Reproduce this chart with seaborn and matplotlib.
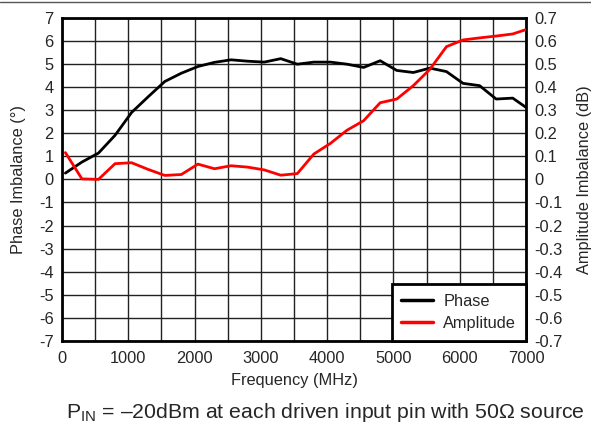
import matplotlib
matplotlib.use('Agg')
import matplotlib.pyplot as plt
from matplotlib.lines import Line2D
from matplotlib.ticker import FuncFormatter
import numpy as np
import pandas as pd
import seaborn as sns

freq = [50, 300, 550, 800, 1050, 1300, 1550, 1800, 2050, 2300, 2550, 2800, 3050, 3300, 3550,
        3800, 4050, 4300, 4550, 4800, 5050, 5300, 5550, 5800, 6050, 6300, 6550, 6800, 7000]
phase = [0.27, 0.75, 1.14, 1.91, 2.90, 3.58, 4.24, 4.60, 4.89, 5.07, 5.18, 5.12, 5.08, 5.23, 4.99,
         5.08, 5.08, 4.99, 4.85, 5.14, 4.72, 4.63, 4.82, 4.67, 4.16, 4.06, 3.48, 3.52, 3.12]
amplitude = [0.116, 0.002, 0.0, 0.068, 0.072, 0.043, 0.017, 0.021, 0.066, 0.046, 0.059, 0.053, 0.041,
             0.018, 0.025, 0.110, 0.156, 0.213, 0.254, 0.332, 0.348, 0.406, 0.477, 0.575, 0.604,
             0.613, 0.621, 0.630, 0.649]

df = pd.DataFrame({'freq': freq, 'phase': phase, 'amplitude': amplitude})

sns.set_style('white')
plt.rcParams['font.family'] = ['Liberation Sans', 'DejaVu Sans']
plt.rcParams['mathtext.fontset'] = 'custom'
plt.rcParams['mathtext.rm'] = 'Liberation Sans'

fig = plt.figure(figsize=(5.91, 4.24), dpi=100)
ax = fig.add_axes([0.105, 0.196, 0.785, 0.762])
ax2 = ax.twinx()

sns.lineplot(data=df, x='freq', y='phase', ax=ax, color='black', lw=2, zorder=5)
sns.lineplot(data=df, x='freq', y='amplitude', ax=ax2, color='#ff0000', lw=2, zorder=5)

ax.set_xlim(0, 7000)
ax.set_ylim(-7, 7)
ax2.set_ylim(-0.7, 0.7)
ax.set_xticks(np.arange(0, 7001, 1000))
ax.set_xticks(np.arange(0, 7001, 500), minor=True)
ax.set_yticks(np.arange(-7, 8, 1))
ax2.set_yticks(np.round(np.arange(-0.7, 0.71, 0.1), 1))

fmt = lambda v, p: ('%g' % (round(v, 1) + 0.0)).replace('\u2212', '-')
ax.yaxis.set_major_formatter(FuncFormatter(fmt))
ax2.yaxis.set_major_formatter(FuncFormatter(fmt))

fs = 11.8
ax.grid(True, which='both', color='#222222', lw=1)
ax.set_axisbelow(True)
ax.tick_params(which='both', length=0, labelsize=fs)
ax.tick_params(axis='x', pad=7)
ax.tick_params(axis='y', pad=6)
ax2.tick_params(length=0, labelsize=fs, pad=6)

for sp in ax2.spines.values():
    sp.set_linewidth(2)
    sp.set_color('black')
for sp in ax.spines.values():
    sp.set_visible(False)

ax.set_xlabel('Frequency (MHz)', fontsize=fs, labelpad=5)
ax.set_ylabel('Phase Imbalance (°)', fontsize=fs, labelpad=9)
ax2.set_ylabel('Amplitude Imbalance (dB)', fontsize=fs, labelpad=10)

handles = [Line2D([], [], color='black', lw=2.5), Line2D([], [], color='#ff0000', lw=2.5)]
leg = ax2.legend(handles, ['Phase', 'Amplitude'], loc='lower right', fontsize=fs,
                 fancybox=False, framealpha=1, edgecolor='black', borderaxespad=0,
                 handlelength=1.9, handletextpad=0.65, borderpad=0.6, labelspacing=0.45)
leg.get_frame().set_linewidth(2)

fig.add_artist(Line2D([0, 1], [0.995, 0.995], color='#555555', lw=1))
fig.text(0.99, 0.015, 'P$_{\\mathrm{IN}}$ = \u201320dBm at each driven input pin with 50\u03a9 source',
         ha='right', va='baseline', fontsize=15.3)

fig.savefig('out.png', dpi=100)
